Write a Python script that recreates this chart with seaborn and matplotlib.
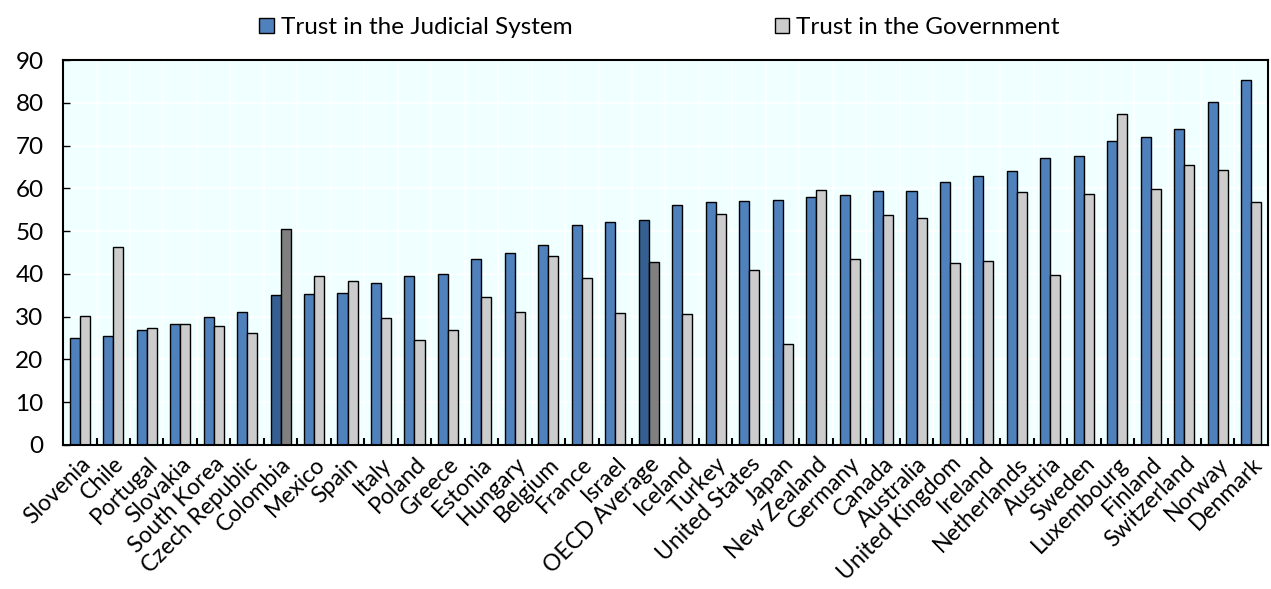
import matplotlib
matplotlib.use("Agg")
import matplotlib.pyplot as plt
import seaborn as sns
import pandas as pd
import numpy as np
from matplotlib.patches import Patch

countries = [
    "Slovenia", "Chile", "Portugal", "Slovakia", "South Korea", "Czech Republic",
    "Colombia", "Mexico", "Spain", "Italy", "Poland", "Greece", "Estonia",
    "Hungary", "Belgium", "France", "Israel", "OECD Average", "Iceland", "Turkey",
    "United States", "Japan", "New Zealand", "Germany", "Canada", "Australia",
    "United Kingdom", "Ireland", "Netherlands", "Austria", "Sweden", "Luxembourg",
    "Finland", "Switzerland", "Norway", "Denmark",
]
judicial = [
    25.0, 25.5, 26.9, 28.4, 29.9, 31.1, 35.0, 35.2, 35.6, 37.8, 39.4, 40.0,
    43.6, 45.0, 46.7, 51.4, 52.1, 52.5, 56.2, 56.8, 57.0, 57.3, 58.1, 58.5,
    59.3, 59.4, 61.6, 62.9, 64.0, 67.2, 67.6, 71.0, 72.0, 73.9, 80.1, 85.4,
]
government = [
    30.2, 46.3, 27.4, 28.2, 27.8, 26.1, 50.5, 39.5, 38.3, 29.6, 24.6, 26.9,
    34.7, 31.1, 44.3, 39.0, 30.8, 42.7, 30.6, 54.0, 41.0, 23.7, 59.6, 43.6,
    53.7, 53.1, 42.6, 43.0, 59.1, 39.8, 58.7, 77.4, 59.9, 65.4, 64.2, 56.7,
]
highlight = ["Colombia", "OECD Average"]

series = ["Trust in the Judicial System", "Trust in the Government"]
BLUE, GREY = "#4F81BD", "#CCCCCC"
DARK_BLUE, DARK_GREY = "#355F91", "#808080"

df = pd.DataFrame({"country": countries, series[0]: judicial, series[1]: government})
long_df = df.melt(id_vars="country", var_name="measure", value_name="value")

plt.rcParams["font.family"] = ["Lato", "DejaVu Sans"]
fig = plt.figure(figsize=(12.71, 5.89), dpi=100)
ax = fig.add_axes([0.0496, 0.2445, 0.948, 0.6535])

sns.barplot(data=long_df, x="country", y="value", hue="measure", order=countries,
            hue_order=series, palette=[BLUE, GREY], saturation=1, width=0.6, gap=0,
            edgecolor="black", linewidth=1.0, legend=False, ax=ax)

# darker shades for the highlighted countries
n = len(countries)
for j, base in enumerate([DARK_BLUE, DARK_GREY]):
    for i, c in enumerate(countries):
        if c in highlight:
            ax.patches[j * n + i].set_facecolor(base)

ax.set_facecolor("#F0FFFF")
ax.set_xlim(-0.5, n - 0.5)
ax.set_ylim(0, 90)
ax.set_yticks(np.arange(0, 91, 10))
ax.set_xticks(np.arange(n))
ax.set_xticklabels(countries, rotation=45, ha="right", rotation_mode="anchor")
ax.set_xticks(np.arange(n - 1) + 0.5, minor=True)
ax.tick_params(axis="x", which="major", length=0, pad=6, labelsize=16.5)
ax.tick_params(axis="x", which="minor", direction="in", length=5, width=1.5)
ax.tick_params(axis="y", direction="in", length=5, width=1, labelsize=17.5, pad=14)
ax.set_axisbelow(True)
ax.yaxis.grid(True, color="white", linewidth=1.2)
ax.xaxis.grid(True, which="minor", color="white", linewidth=1.2)
ax.set_xlabel("")
ax.set_ylabel("")
for sp in ax.spines.values():
    sp.set_color("black")
    sp.set_linewidth(1.5)

handles = [Patch(facecolor=BLUE, edgecolor="black", label=series[0]),
           Patch(facecolor=GREY, edgecolor="black", label=series[1])]
fig.legend(handles=handles, loc="upper center", bbox_to_anchor=(0.519, 1.0), ncol=2,
           frameon=False, fontsize=17.5, columnspacing=8.3, handlelength=0.6,
           handleheight=0.6, handletextpad=0.3, borderaxespad=0.3)

fig.savefig("out.png", dpi=100)
